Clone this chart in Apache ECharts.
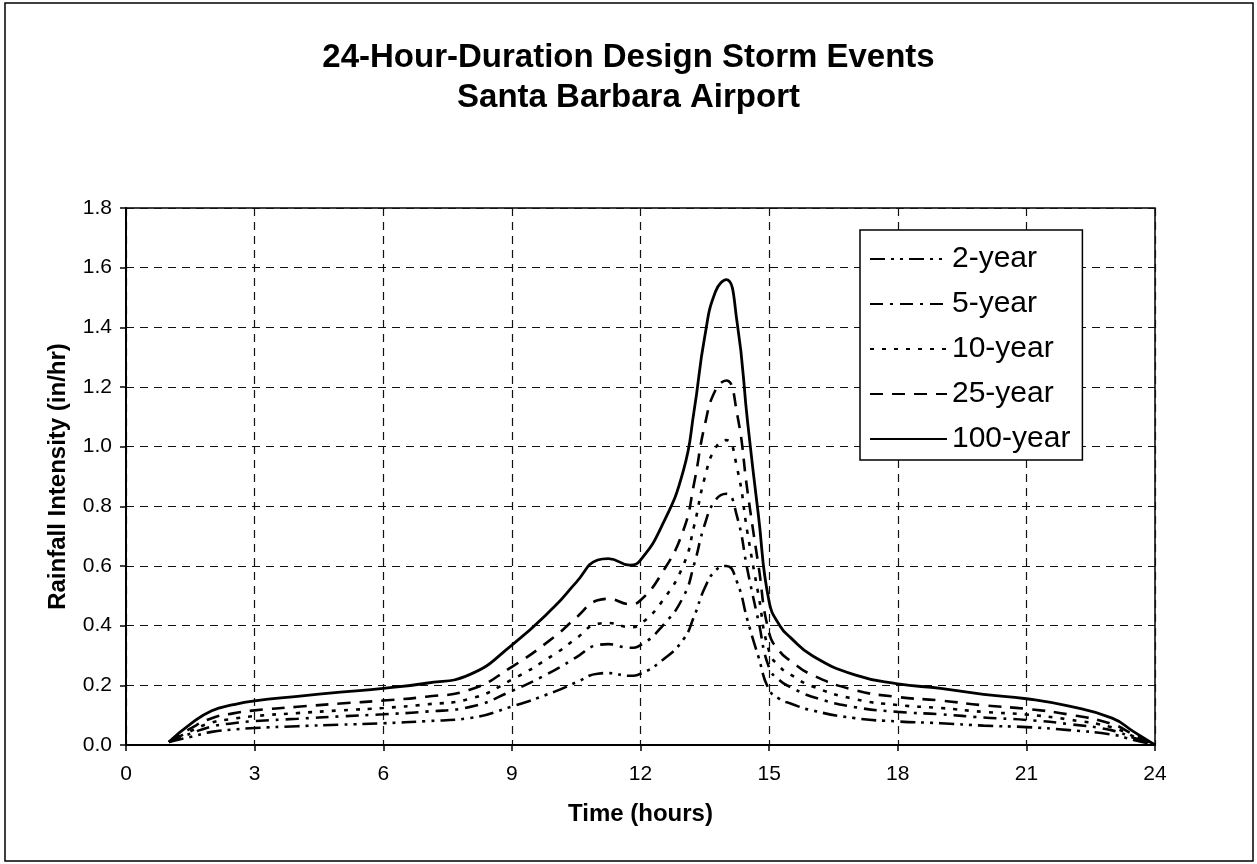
<!DOCTYPE html>
<html>
<head>
<meta charset="utf-8">
<script src="https://cdn.jsdelivr.net/npm/echarts@6/dist/echarts.min.js"></script>
<style>
html,body{margin:0;padding:0;background:#fff;}
#chart{width:1257px;height:864px;}
</style>
</head>
<body>
<div id="chart"></div>
<script>
// ---- data ----
var hours = [1, 1.5, 2, 2.5, 3, 4, 5, 6, 7, 8, 9, 10, 10.5, 11, 11.25, 11.75, 12, 12.5, 13, 13.25, 13.5, 13.75, 14, 14.25, 14.5, 14.75, 15, 15.25, 15.5, 16, 17, 18, 19, 20, 21, 22, 23, 23.5, 24];

var year2 = [0.01, 0.027, 0.044, 0.052, 0.057, 0.063, 0.068, 0.073, 0.080, 0.090, 0.129, 0.179, 0.210, 0.239, 0.241, 0.232, 0.239, 0.283, 0.354, 0.431, 0.527, 0.585, 0.600, 0.547, 0.416, 0.296, 0.185, 0.154, 0.139, 0.116, 0.090, 0.079, 0.073, 0.065, 0.060, 0.050, 0.035, 0.017, 0];
var year5 = [0.01, 0.038, 0.062, 0.073, 0.080, 0.088, 0.096, 0.103, 0.112, 0.127, 0.181, 0.251, 0.294, 0.335, 0.338, 0.326, 0.335, 0.397, 0.497, 0.605, 0.740, 0.821, 0.842, 0.767, 0.583, 0.416, 0.259, 0.216, 0.194, 0.162, 0.127, 0.111, 0.103, 0.092, 0.084, 0.070, 0.049, 0.024, 0];
var year10 = [0.01, 0.046, 0.075, 0.088, 0.097, 0.107, 0.116, 0.124, 0.136, 0.154, 0.219, 0.305, 0.357, 0.406, 0.409, 0.395, 0.406, 0.481, 0.603, 0.734, 0.897, 0.996, 1.022, 0.930, 0.707, 0.504, 0.314, 0.262, 0.236, 0.197, 0.154, 0.134, 0.124, 0.111, 0.102, 0.085, 0.059, 0.029, 0];
var year25 = [0.01, 0.055, 0.090, 0.106, 0.116, 0.128, 0.139, 0.149, 0.162, 0.184, 0.262, 0.364, 0.427, 0.485, 0.490, 0.472, 0.485, 0.576, 0.720, 0.877, 1.073, 1.190, 1.222, 1.112, 0.846, 0.603, 0.376, 0.313, 0.282, 0.235, 0.184, 0.161, 0.149, 0.133, 0.121, 0.102, 0.070, 0.035, 0];
var year100 = [0.01, 0.070, 0.115, 0.135, 0.148, 0.163, 0.177, 0.190, 0.207, 0.235, 0.335, 0.465, 0.545, 0.620, 0.625, 0.603, 0.620, 0.735, 0.920, 1.120, 1.370, 1.520, 1.560, 1.420, 1.080, 0.770, 0.480, 0.400, 0.360, 0.300, 0.235, 0.205, 0.190, 0.170, 0.155, 0.130, 0.090, 0.045, 0];

var seriesNames = ['2-year', '5-year', '10-year', '25-year', '100-year'];
var xTicks = [0, 3, 6, 9, 12, 15, 18, 21, 24];
var titleLines = ['24-Hour-Duration Design Storm Events', 'Santa Barbara Airport'];

// ---- build ----
function pairs(vals) {
  return hours.map(function (h, i) { return [h, vals[i]]; });
}
var FONT = '"Liberation Sans", Arial, Helvetica, sans-serif';
var dashes = [
  [15, 6, 3, 6, 3, 6],
  [13, 7, 3, 7],
  [4, 8],
  [13, 9],
  'solid'
];
var allVals = [year2, year5, year10, year25, year100];

var series = seriesNames.map(function (name, i) {
  return {
    name: name,
    type: 'line',
    data: pairs(allVals[i]),
    symbol: 'none',
    showSymbol: false,
    smooth: 0.5,
    z: 3 + i,
    lineStyle: { color: '#000', width: i === 4 ? 2.8 : 2.6, type: dashes[i] },
    itemStyle: { color: '#000' }
  };
});

var chart = echarts.init(document.getElementById('chart'), null, { renderer: 'canvas' });
chart.setOption({
  animation: false,
  backgroundColor: '#fff',
  title: {
    text: titleLines.join('\n'),
    left: 'center',
    top: 33,
    textStyle: { fontFamily: FONT, fontSize: 33, fontWeight: 'bold', color: '#000', lineHeight: 40 }
  },
  graphic: [{
    type: 'rect',
    shape: { x: 5, y: 3, width: 1248, height: 858 },
    style: { fill: 'none', stroke: '#000', lineWidth: 1.5 },
    silent: true, z: -1
  }],
  grid: {
    left: 126, right: 102, top: 208, bottom: 119,
    show: true, borderColor: '#000', borderWidth: 1.5, backgroundColor: 'transparent'
  },
  legend: {
    orient: 'vertical',
    left: 860, top: 230,
    padding: [14, 12, 6, 9],
    itemWidth: 77, itemHeight: 16, itemGap: 15,
    backgroundColor: '#fff',
    borderColor: '#000', borderWidth: 1.5,
    itemStyle: { opacity: 0, borderWidth: 0 },
    textStyle: { fontFamily: FONT, fontSize: 30, color: '#000', lineHeight: 30 },
    data: seriesNames
  },
  xAxis: {
    type: 'value', min: 0, max: 24, interval: 3,
    name: 'Time (hours)', nameLocation: 'middle', nameGap: 57,
    nameTextStyle: { fontFamily: FONT, fontSize: 24, fontWeight: 'bold', color: '#000' },
    axisLine: { show: true, lineStyle: { color: '#000', width: 2 } },
    axisTick: { show: true, length: 6, lineStyle: { color: '#000', width: 1.5 } },
    axisLabel: { fontFamily: FONT, fontSize: 21, color: '#000', margin: 19,
      formatter: function (v) { return xTicks.indexOf(v) >= 0 ? String(v) : ''; } },
    splitLine: { show: true, lineStyle: { color: '#111', width: 1.2, type: [8, 6] } }
  },
  yAxis: {
    type: 'value', min: 0, max: 1.8, interval: 0.2,
    name: 'Rainfall Intensity (in/hr)', nameLocation: 'middle', nameGap: 56,
    nameTextStyle: { fontFamily: FONT, fontSize: 24, fontWeight: 'bold', color: '#000' },
    axisLine: { show: true, lineStyle: { color: '#000', width: 2 } },
    axisTick: { show: true, length: 6, lineStyle: { color: '#000', width: 1.5 } },
    axisLabel: { fontFamily: FONT, fontSize: 21, color: '#000', margin: 14,
      formatter: function (v) { return v.toFixed(1); } },
    splitLine: { show: true, lineStyle: { color: '#111', width: 1.2, type: [8, 6] } }
  },
  series: series
});
</script>
</body>
</html>
